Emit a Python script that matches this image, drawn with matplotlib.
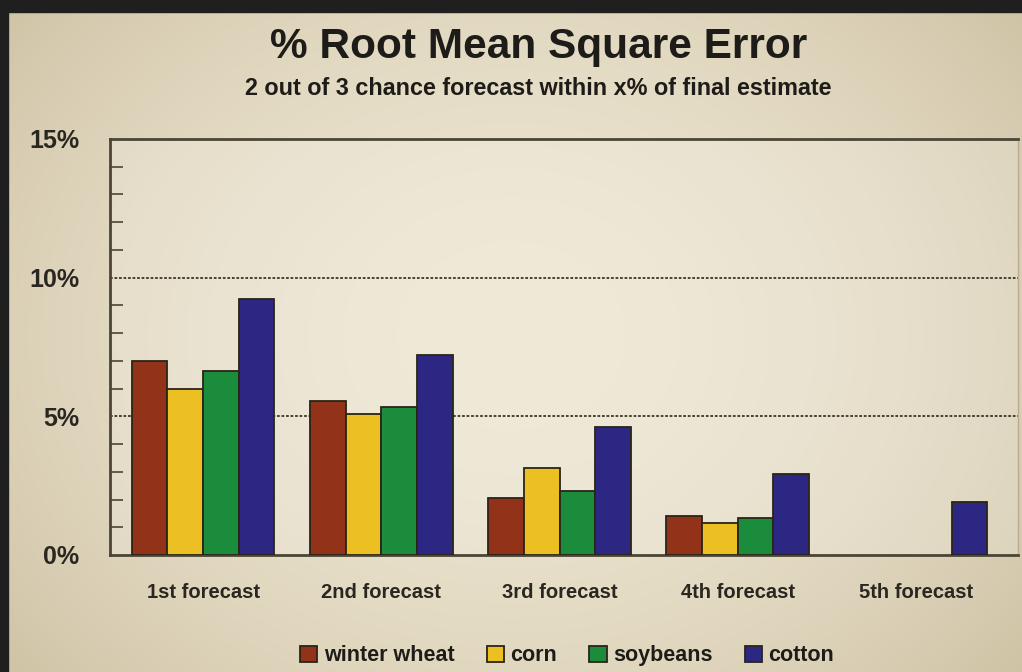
import numpy as np
import matplotlib
matplotlib.use('Agg')
import matplotlib.pyplot as plt
from matplotlib.patches import Rectangle, Patch

plt.rcParams['font.family'] = ['Liberation Sans', 'DejaVu Sans']
plt.rcParams['font.weight'] = 'bold'

previsiones = ['1st forecast', '2nd forecast', '3rd forecast', '4th forecast', '5th forecast']
cultivos = ['winter wheat', 'corn', 'soybeans', 'cotton']
trigo = [7.0, 5.55, 2.05, 1.4, np.nan]
maiz = [6.0, 5.1, 3.13, 1.17, np.nan]
soja = [6.65, 5.33, 2.32, 1.32, np.nan]
algodon = [9.24, 7.22, 4.63, 2.91, 1.92]
colores = ['#923219', '#ecbf22', '#1b8c3b', '#2b2783']
etiquetas_y = ['0%', '5%', '10%', '15%']

fig = plt.figure(figsize=(10.22, 6.72), dpi=100)

# fondo beige con degradado
fondo = fig.add_axes([0, 0, 1, 1], zorder=-10)
xx, yy = np.meshgrid(np.linspace(-1, 1, 400), np.linspace(-1, 1, 300))
d = np.clip(0.55 * xx**2 + 0.35 * yy**2, 0, 1)
c_centro = np.array([0.925, 0.895, 0.815])
c_borde = np.array([0.80, 0.75, 0.63])
img = c_centro[None, None, :] * (1 - d[..., None]) + c_borde[None, None, :] * d[..., None]
fondo.imshow(img, aspect='auto', extent=[0, 1, 0, 1], origin='lower')
fondo.set_xlim(0, 1)
fondo.set_ylim(0, 1)
fondo.axis('off')
fig.patches.append(Rectangle((0, 1 - 12 / 672), 1, 12 / 672, transform=fig.transFigure,
                             color='#1f1f1f', zorder=5))
fig.patches.append(Rectangle((0, 0), 8 / 1022, 1, transform=fig.transFigure,
                             color='#1f1f1f', zorder=5))

ax = fig.add_axes([110 / 1022, 1 - 555 / 672, 908 / 1022, 416 / 672])
ax.set_facecolor((1, 1, 1, 0.18))

x = np.arange(len(previsiones))
ancho = 0.2
series = [trigo, maiz, soja, algodon]
for i, (serie, color) in enumerate(zip(series, colores)):
    ax.bar(x + (i - 1.5) * ancho, serie, ancho, color=color, edgecolor='#2a2418',
           linewidth=1.3, zorder=3, label=cultivos[i])

ax.set_xlim(-0.522, 4.572)
ax.set_ylim(0, 15)
ax.set_yticks([0, 5, 10, 15])
ax.set_yticklabels(etiquetas_y)
ax.set_yticks(np.arange(0, 15, 1), minor=True)
ax.set_xticks(x)
ax.set_xticklabels(previsiones, fontsize=14.5)
ax.tick_params(axis='x', length=0, pad=20, colors='#2a2620')
ax.tick_params(axis='y', which='major', direction='in', length=0, pad=22, labelsize=18,
               colors='#2a2620')
ax.tick_params(axis='y', which='minor', direction='in', length=9, width=1.2, color='#4a4535')

for v in [5, 10]:
    ax.axhline(v, color='#3a3528', linestyle=(0, (1.5, 1)), linewidth=1.3, zorder=1)

for lado in ['top', 'left', 'bottom']:
    ax.spines[lado].set_color('#4a4536')
    ax.spines[lado].set_linewidth(2)
ax.spines['right'].set_color('#b8ad90')
ax.spines['right'].set_linewidth(1)

fig.text(0.527, 0.930, '% Root Mean Square Error', ha='center', va='center',
         fontsize=30.5, color='#1e1c18')
fig.text(0.527, 0.869, '2 out of 3 chance forecast within x% of final estimate',
         ha='center', va='center', fontsize=16.8, color='#1e1c18')

manijas = [Patch(facecolor=c, edgecolor='#2a2418', linewidth=1.3) for c in colores]
fig.legend(manijas, cultivos, loc='center', bbox_to_anchor=(0.555, 0.024), ncol=4,
           frameon=False, fontsize=15.5, handlelength=0.8, handleheight=0.8,
           handletextpad=0.3, columnspacing=1.5, labelcolor='#1e1c18')

fig.savefig('out.png', dpi=100)
